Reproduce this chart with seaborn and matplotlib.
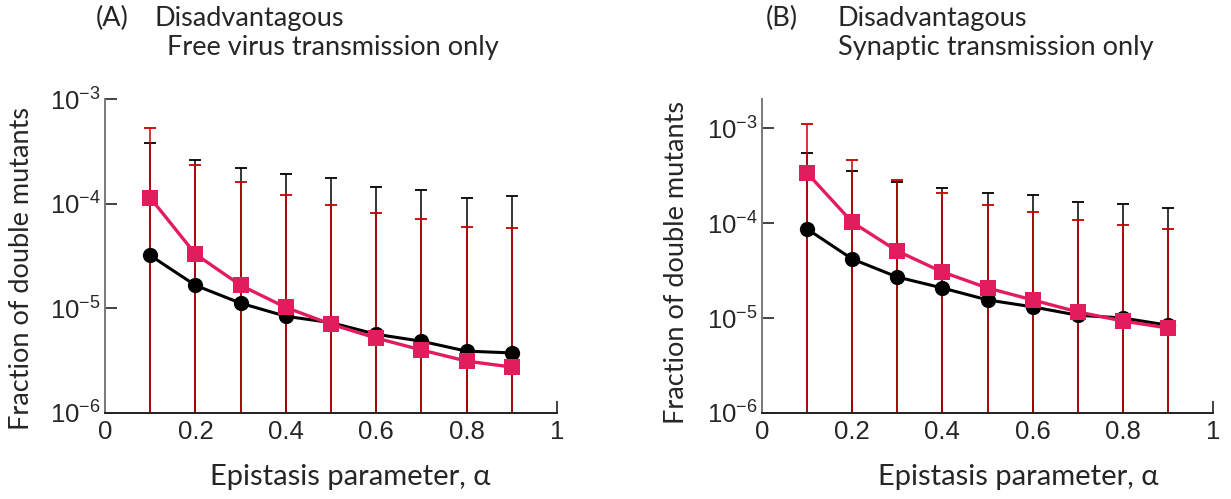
import numpy as np
import pandas as pd
import matplotlib
matplotlib.use("Agg")
import matplotlib.pyplot as plt
import seaborn as sns

# ---------------- data ----------------
alpha = [0.1, 0.2, 0.3, 0.4, 0.5, 0.6, 0.7, 0.8, 0.9]

# Panel A: free virus transmission only
a_black = [3.2e-5, 1.66e-5, 1.12e-5, 8.4e-6, 7.3e-6, 5.65e-6, 4.85e-6, 3.9e-6, 3.75e-6]
a_pink = [1.14e-4, 3.3e-5, 1.66e-5, 1.02e-5, 7.05e-6, 5.2e-6, 4.0e-6, 3.13e-6, 2.75e-6]
a_black_upper = [3.8e-4, 2.63e-4, 2.19e-4, 1.93e-4, 1.76e-4, 1.45e-4, 1.36e-4, 1.14e-4, 1.19e-4]
a_pink_upper = [5.3e-4, 2.34e-4, 1.62e-4, 1.22e-4, 9.8e-5, 8.2e-5, 7.2e-5, 6.0e-5, 5.9e-5]

# Panel B: synaptic transmission only
b_black = [8.65e-5, 4.18e-5, 2.7e-5, 2.07e-5, 1.55e-5, 1.31e-5, 1.07e-5, 1.0e-5, 8.4e-6]
b_pink = [3.36e-4, 1.02e-4, 5.07e-5, 3.05e-5, 2.07e-5, 1.55e-5, 1.16e-5, 9.3e-6, 7.85e-6]
b_black_upper = [5.45e-4, 3.5e-4, 2.7e-4, 2.33e-4, 2.07e-4, 1.97e-4, 1.66e-4, 1.58e-4, 1.44e-4]
b_pink_upper = [1.1e-3, 4.6e-4, 2.84e-4, 2.07e-4, 1.55e-4, 1.31e-4, 1.08e-4, 9.5e-5, 8.65e-5]

# lower ends of the error bars fall below the axis (clipped)
lower_limit = 1e-9

ytick_vals = [1e-6, 1e-5, 1e-4, 1e-3]
ytick_labels = [r"$10^{-6}$", r"$10^{-5}$", r"$10^{-4}$", r"$10^{-3}$"]
xtick_vals = [0, 0.2, 0.4, 0.6, 0.8, 1]
xtick_labels = ["0", "0.2", "0.4", "0.6", "0.8", "1"]

titles = [("(A)", "Disadvantagous", "Free virus transmission only"),
          ("(B)", "Disadvantagous", "Synaptic transmission only")]
xlabel = "Epistasis parameter, α"
ylabel = "Fraction of double mutants"

# ---------------- style ----------------
sns.set_theme(style="ticks")
plt.rcParams["font.family"] = ["Liberation Sans", "DejaVu Sans"]
plt.rcParams["mathtext.fontset"] = "custom"
plt.rcParams["mathtext.rm"] = "Liberation Sans"
plt.rcParams["mathtext.it"] = "Liberation Sans"
plt.rcParams["mathtext.default"] = "regular"

PINK = "#E21D5E"
RED_ERR = "#C80000"
BLACK = "#000000"
W, H = 1231, 499
fig = plt.figure(figsize=(W / 100, H / 100), dpi=100)

panels = [
    dict(left=105, right=557, top=99, ylim=(1e-6, 1e-3),
         black=a_black, pink=a_pink, bu=a_black_upper, pu=a_pink_upper),
    dict(left=762, right=1213, top=99, ylim=(1e-6, 2.02e-3),
         black=b_black, pink=b_pink, bu=b_black_upper, pu=b_pink_upper),
]
bottom_px = 413

text_font = ["Lato", "DejaVu Sans"]
TFS = 19.5
XLFS = 21
TICKFS = 18.5

for i, p in enumerate(panels):
    ax = fig.add_axes([p["left"] / W, 1 - bottom_px / H,
                       (p["right"] - p["left"]) / W, (bottom_px - p["top"]) / H])
    ax.set_yscale("log")
    x = np.array(alpha)
    bl = np.array(p["black"]); pk = np.array(p["pink"])
    bu = np.array(p["bu"]); pu = np.array(p["pu"])

    # error bars (black under red)
    ax.errorbar(x, bl, yerr=[bl - lower_limit, bu - bl], fmt="none",
                ecolor=BLACK, elinewidth=1.1, capsize=4, capthick=1.3, zorder=1)
    ax.errorbar(x, pk, yerr=[pk - lower_limit, pu - pk], fmt="none",
                ecolor=RED_ERR, elinewidth=1.1, capsize=4, capthick=1.3, zorder=2)

    df = pd.DataFrame({"alpha": list(x) * 2,
                       "value": list(bl) + list(pk),
                       "series": ["black"] * len(x) + ["pink"] * len(x)})
    sns.lineplot(data=df[df.series == "black"], x="alpha", y="value", ax=ax,
                 color=BLACK, linewidth=2.2, marker="o", markersize=11,
                 markeredgewidth=0, zorder=3, legend=False)
    sns.lineplot(data=df[df.series == "pink"], x="alpha", y="value", ax=ax,
                 color=PINK, linewidth=2.4, marker="s", markersize=11,
                 markeredgewidth=0, zorder=4, legend=False)

    ax.set_xlim(0, 1)
    ax.set_ylim(*p["ylim"])
    ax.set_xticks(xtick_vals)
    ax.set_xticklabels(xtick_labels, fontfamily="Liberation Sans", fontsize=TICKFS)
    ax.set_yticks(ytick_vals)
    ax.set_yticklabels(ytick_labels, fontfamily="Liberation Sans", fontsize=TICKFS)
    ax.yaxis.set_minor_locator(matplotlib.ticker.NullLocator())
    ax.tick_params(axis="both", which="major", direction="in", length=8.5,
                   width=1.2, color="#222222")
    ax.tick_params(axis="x", pad=5)
    ax.tick_params(axis="y", pad=3)
    ax.set_xlabel("")
    ax.set_ylabel("")
    for s in ["top", "right"]:
        ax.spines[s].set_visible(False)
    ax.spines["left"].set_color("#7a7a7a")
    ax.spines["left"].set_linewidth(1.4)
    ax.spines["bottom"].set_color("#222222")
    ax.spines["bottom"].set_linewidth(1.4)
    ax.set_facecolor("none")

# titles
fig.text(96 / W, 1 - 26 / H, titles[0][0], fontsize=TFS, family=text_font, va="baseline")
fig.text(154 / W, 1 - 26 / H, titles[0][1], fontsize=TFS, family=text_font, va="baseline")
fig.text(167 / W, 1 - 55 / H, titles[0][2], fontsize=TFS, family=text_font, va="baseline")
fig.text(766 / W, 1 - 26 / H, titles[1][0], fontsize=TFS, family=text_font, va="baseline")
fig.text(838 / W, 1 - 26 / H, titles[1][1], fontsize=TFS, family=text_font, va="baseline")
fig.text(838 / W, 1 - 55 / H, titles[1][2], fontsize=TFS, family=text_font, va="baseline")

# axis labels
fig.text(350 / W, 1 - 477 / H, xlabel, fontsize=XLFS, family=text_font, ha="center", va="center")
fig.text(1018 / W, 1 - 477 / H, xlabel, fontsize=XLFS, family=text_font, ha="center", va="center")
fig.text(22 / W, 1 - 268 / H, ylabel, fontsize=TFS, family=text_font, ha="center", va="center", rotation=90)
fig.text(677 / W, 1 - 262 / H, ylabel, fontsize=TFS, family=text_font, ha="center", va="center", rotation=90)

fig.savefig("out.png", dpi=100, facecolor="white")
